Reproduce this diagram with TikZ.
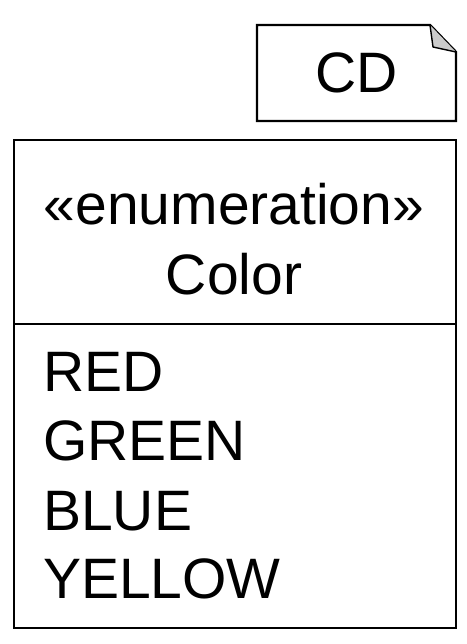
\documentclass[tikz,border=0pt]{standalone}
\usepackage{fontspec}
\setmainfont{Liberation Sans}
\tikzset{lbl/.style={inner sep=0pt,font=\fontsize{57}{68}\selectfont}}

\begin{document}
\begin{tikzpicture}[x=1pt,y=-1pt,line width=2.4pt]
\useasboundingbox (0,0) rectangle (466,644);
% note
\draw (257,25)--(430,25)--(456,52)--(456,121)--(257,121)--cycle;
\filldraw[fill=black!20,line width=1.4pt,line join=round] (430,25)--(433,47)--(456,52);
\node[lbl,anchor=base] (cd) at (357,93) {CD};
% enumeration box
\draw (14,140) rectangle (456,628);
\draw (14,324)--(456,324);
\node[lbl,anchor=base] (stereo) at (234,224) {«enumeration»};
\node[lbl,anchor=base] (name) at (234,294) {Color};
\node[lbl,anchor=base west] (red) at (42,391) {RED};
\node[lbl,anchor=base west] (green) at (42,460) {GREEN};
\node[lbl,anchor=base west] (blue) at (42,530) {BLUE};
\node[lbl,anchor=base west] (yellow) at (42,598) {YELLOW};
\end{tikzpicture}
\end{document}
